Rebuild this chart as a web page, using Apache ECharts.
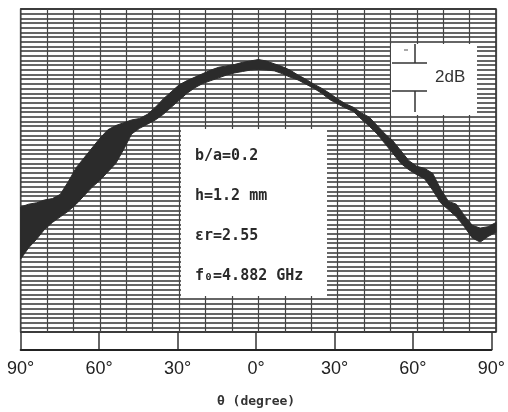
<!DOCTYPE html>
<html><head><meta charset="utf-8">
<script src="https://cdn.jsdelivr.net/npm/echarts@6/dist/echarts.min.js"></script>
<style>html,body{margin:0;padding:0;background:#fff}#c{width:508px;height:412px}</style>
</head><body><div id="c"></div>
<script>
// ---- data ----
const angles = [-90,-87,-84,-81,-78,-75,-72,-69,-66,-63,-60,-57,-54,-51,-48,-45,-42,-39,-36,-33,-30,-27,-24,-21,-18,-15,-12,-9,-6,-3,0,
  3,6,9,12,15,18,21,24,27,30,33,36,39,42,45,48,51,54,57,60,63,66,69,72,75,78,81,84,87,90];
const upperDb = [-14.1,-13.9,-13.8,-13.6,-13.5,-13.2,-12.3,-11.3,-10.6,-9.9,-9.2,-8.6,-8.3,-8.1,-7.9,-7.8,-7.5,-7.0,-6.4,-5.9,-5.4,-5.1,-4.85,-4.6,-4.35,-4.15,-4.05,-3.95,-3.8,-3.7,-3.6,
  -3.7,-3.9,-4.1,-4.35,-4.7,-5.0,-5.35,-5.65,-6.0,-6.4,-6.75,-7.0,-7.4,-7.7,-8.3,-8.9,-9.4,-10.1,-10.8,-11.2,-11.35,-11.7,-12.8,-13.7,-13.9,-14.7,-15.4,-15.6,-15.5,-15.2];
const lowerDb = [-17.8,-17.0,-16.4,-15.7,-15.2,-14.8,-14.4,-13.9,-13.3,-12.7,-12.2,-11.6,-11.0,-10.0,-8.9,-8.5,-8.2,-7.9,-7.5,-7.0,-6.5,-6.0,-5.6,-5.3,-5.1,-4.9,-4.7,-4.55,-4.45,-4.35,-4.3,
  -4.35,-4.4,-4.6,-4.85,-5.05,-5.35,-5.65,-6.0,-6.45,-6.75,-7.05,-7.3,-7.85,-8.35,-8.9,-9.6,-10.3,-11.0,-11.45,-11.8,-12.1,-12.9,-13.8,-14.3,-14.8,-15.5,-16.3,-16.6,-16.2,-15.9];
const xTickValues = [-90,-60,-30,0,30,60,90];
const xTickLabels = ['90°','60°','30°','0°','30°','60°','90°'];
const xAxisTitle = 'θ (degree)';
const insetLines = ['b/a=0.2','h=1.2 mm','εr=2.55','f₀=4.882 GHz'];
const scaleLabel = '2dB';

// ---- chart ----
const chart = echarts.init(document.getElementById('c'));
const gridLine = '#333';
const insetText = insetLines.map((t, i) => ({
  type: 'text', z: 20, left: 195, top: 149 + i * 40,
  style: { text: t, font: 'bold 15px "DejaVu Sans Mono"', fill: '#2a2a2a' }
}));
chart.setOption({
  animation: false,
  backgroundColor: '#fff',
  grid: [
    { left: 20.7, right: 12, top: 9, height: 323, show: true, borderColor: '#222', borderWidth: 1.5 },
    { left: 20.7, right: 12, top: 332, height: 18 }
  ],
  xAxis: [
    { gridIndex: 0, type: 'value', min: -90, max: 90, interval: 10,
      axisLine: { show: false }, axisTick: { show: false }, axisLabel: { show: false },
      splitLine: { show: true, lineStyle: { color: '#444', width: 1.2 } } },
    { gridIndex: 1, type: 'value', min: -90, max: 90, interval: 30,
      axisLine: { show: true, onZero: false, lineStyle: { color: '#222', width: 2 } },
      axisTick: { show: false },
      axisLabel: { show: true, margin: 10, color: '#222', fontSize: 18, fontFamily: 'Liberation Sans',
        formatter: v => xTickLabels[xTickValues.indexOf(v)] },
      splitLine: { show: true, lineStyle: { color: '#333', width: 1.5 } },
      name: xAxisTitle, nameLocation: 'middle', nameGap: 45,
      nameTextStyle: { fontFamily: 'DejaVu Sans Mono', fontWeight: 'bold', fontSize: 13, color: '#333' } }
  ],
  yAxis: [
    { gridIndex: 0, type: 'value', min: -23, max: 0, show: false },
    { gridIndex: 0, type: 'value', min: 0, max: 69, interval: 1,
      axisLine: { show: false }, axisTick: { show: false }, axisLabel: { show: false },
      splitLine: { show: true, lineStyle: { color: gridLine, width: 1.5 } } },
    { gridIndex: 1, type: 'value', min: 0, max: 1, show: false }
  ],
  series: [{
    type: 'custom', xAxisIndex: 0, yAxisIndex: 0, clip: true, z: 5,
    data: [[0, 0]],
    renderItem: function (params, api) {
      const pts = [];
      for (let i = 0; i < angles.length; i++) pts.push(api.coord([angles[i], upperDb[i]]));
      for (let i = angles.length - 1; i >= 0; i--) pts.push(api.coord([angles[i], lowerDb[i]]));
      return { type: 'polygon', shape: { points: pts }, style: { fill: '#2b2b2b', stroke: '#2b2b2b', lineWidth: 1 } };
    }
  }],
  graphic: [
    { type: 'rect', z: 10, shape: { x: 181, y: 129, width: 146, height: 167 }, style: { fill: '#fff' } },
    ...insetText,
    { type: 'rect', z: 10, shape: { x: 391, y: 44, width: 86, height: 71 }, style: { fill: '#fff' } },
    { type: 'polyline', z: 20, shape: { points: [[392, 63], [427, 63]] }, style: { stroke: '#333', lineWidth: 1.5 } },
    { type: 'polyline', z: 20, shape: { points: [[415, 44], [415, 63]] }, style: { stroke: '#333', lineWidth: 1.5 } },
    { type: 'polyline', z: 20, shape: { points: [[392, 91], [427, 91]] }, style: { stroke: '#333', lineWidth: 1.5 } },
    { type: 'polyline', z: 20, shape: { points: [[415, 91], [415, 112]] }, style: { stroke: '#333', lineWidth: 1.5 } },
    { type: 'polyline', z: 20, shape: { points: [[404, 50], [408, 50]] }, style: { stroke: '#555', lineWidth: 1 } },
    { type: 'text', z: 20, left: 435, top: 69, style: { text: scaleLabel, font: '17px "Liberation Sans"', fill: '#333' } }
  ]
});
</script></body></html>
